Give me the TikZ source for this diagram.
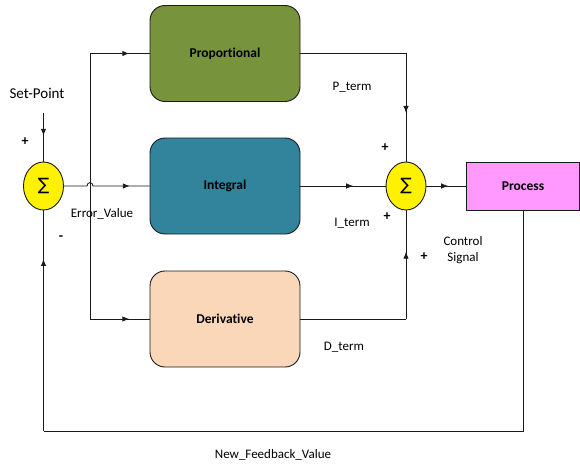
\documentclass[tikz,border=0pt]{standalone}
\usepackage{fontspec}
\setmainfont{Carlito}[Ligatures={NoCommon}]
\newfontfamily\symfont{DejaVu Sans}
\usetikzlibrary{shapes.geometric,arrows.meta,decorations.markings}
\definecolor{propc}{HTML}{77933C}
\definecolor{intc}{HTML}{31849B}
\definecolor{derc}{HTML}{FAD7B9}
\definecolor{procc}{HTML}{FF99FF}
\definecolor{linec}{HTML}{1A1A1A}
\tikzset{
  blk/.style={draw=linec, line width=0.9pt, rounded corners=15pt, minimum width=150pt, minimum height=96pt, inner sep=0pt, font=\fontsize{13.5}{15}\selectfont\bfseries},
  sumnode/.style={ellipse, draw=linec, line width=0.9pt, fill=yellow, minimum width=40pt, minimum height=48pt, inner sep=0pt, font=\symfont\fontsize{17}{19}\selectfont},
  procbox/.style={draw=linec, line width=0.9pt, fill=procc, minimum width=113pt, minimum height=48pt, inner sep=0pt, font=\fontsize{13.5}{15}\selectfont\bfseries},
  lbl/.style={font=\fontsize{13}{16}\selectfont, inner sep=0pt, align=center},
  sgn/.style={font=\fontsize{14}{16}\selectfont\bfseries, inner sep=0pt},
  conn/.style={draw=linec, line width=0.9pt},
  amark/.style={decoration={markings, mark=at position #1 with {\arrow{Latex[length=7pt,width=5.5pt]}}}, postaction={decorate}}
}
\begin{document}
\begin{tikzpicture}[x=1pt,y=-1pt]
\useasboundingbox (0,0) rectangle (580,468);
% blocks
\node[blk, fill=propc] (P) at (225,53.5) {Proportional};
\node[blk, fill=intc] (I) at (225,186) {Integral};
\node[blk, fill=derc] (D) at (225,319) {Derivative};
\node[sumnode] (S1) at (43.5,186) {∑};
\node[sumnode] (S2) at (406,186) {∑};
\node[procbox] (Proc) at (523,186) {Process};
% set point
\node[font=\fontsize{15}{17}\selectfont, inner sep=0pt] (SP) at (37,93) {Set-Point};
\coordinate (sp) at (43.5,113);
\draw[conn, amark=0.47] (sp) -- (S1.north);
% error line with hop
\coordinate (h1) at (87,186);
\coordinate (h2) at (93,186);
\draw[conn, amark=0.78] (S1.east) -- (h1) .. controls (87,181.5) and (93,181.5) .. (h2) -- (I.west);
% branch line
\coordinate (b1) at (90,53.5);
\coordinate (b2) at (90,319);
\draw[conn] (b1) -- (b2);
\draw[conn, amark=0.66] (b1) -- (P.west);
\draw[conn, amark=0.66] (b2) -- (D.west);
% outputs to sum
\coordinate (pc) at (406,53.5);
\coordinate (dc) at (406,319);
\draw[conn] (P.east) -- (pc);
\draw[conn, amark=0.55] (pc) -- (S2.north);
\draw[conn, amark=0.62] (I.east) -- (S2.west);
\draw[conn] (D.east) -- (dc);
\draw[conn, amark=0.62] (dc) -- (S2.south);
\draw[conn, amark=0.55] (S2.east) -- (Proc.west);
% feedback
\coordinate (f1) at (523,431);
\coordinate (f2) at (43.5,431);
\draw[conn] (Proc.south) -- (f1) -- (f2);
\draw[conn, amark=0.78] (f2) -- (S1.south);
% labels
\node[lbl] (pl) at (352,87) {P\_term};
\node[lbl] (il) at (352,223) {I\_term};
\node[lbl] (dl) at (344,347) {D\_term};
\node[lbl] (el) at (102,214) {Error\_Value};
\node[lbl] (cs) at (463,250) {Control\\Signal};
\node[lbl] (nf) at (273,455) {New\_Feedback\_Value};
\node[sgn] (s1) at (25,142) {+};
\node[sgn] (s2) at (61,238) {-};
\node[sgn] (s3) at (385,148) {+};
\node[sgn] (s4) at (387,217) {+};
\node[sgn] (s5) at (424,257) {+};
\end{tikzpicture}
\end{document}
